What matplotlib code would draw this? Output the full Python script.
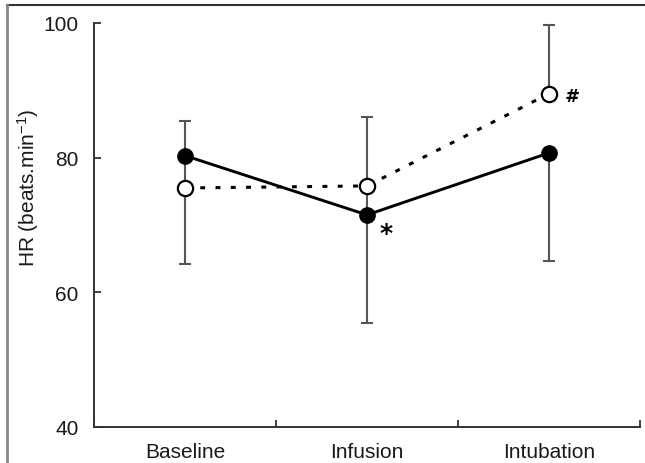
import matplotlib
matplotlib.use("Agg")
import matplotlib.pyplot as plt
from matplotlib.lines import Line2D
import numpy as np

plt.rcParams['font.family'] = ['Liberation Sans', 'DejaVu Sans']
plt.rcParams['mathtext.fontset'] = 'custom'
plt.rcParams['mathtext.rm'] = 'Liberation Sans'
plt.rcParams['mathtext.it'] = 'Liberation Sans:italic'
plt.rcParams['mathtext.bf'] = 'Liberation Sans:bold'

# Data
groups = ['Baseline', 'Infusion', 'Intubation']
filled_mean = [80.3, 71.5, 80.7]
filled_sd = [5.1, 16.1, 16.0]
filled_up = [True, False, False]   # direction the SD bar is drawn
open_mean = [75.5, 75.8, 89.5]
open_sd = [11.3, 10.2, 10.2]
open_up = [False, True, True]
linked = [True, True, False]       # bar also runs between the two means
marks = {'Infusion': ('*', 'filled'), 'Intubation': ('#', 'open')}

x = np.arange(len(groups)) + 0.5
ebcol = '#555555'

fig = plt.figure(figsize=(6.45, 4.64), dpi=100)
ax = fig.add_axes([0.1457, 0.0776, 0.8465, 0.8707])

def one_sided(sd, up):
    lo = [0 if u else s for s, u in zip(sd, up)]
    hi = [s if u else 0 for s, u in zip(sd, up)]
    return [lo, hi]

# Error bars (drawn first, behind markers)
ax.errorbar(x, filled_mean, yerr=one_sided(filled_sd, filled_up), fmt='none',
            ecolor=ebcol, elinewidth=1.5, capsize=4.3, capthick=1.5, zorder=1)
ax.errorbar(x, open_mean, yerr=one_sided(open_sd, open_up), fmt='none',
            ecolor=ebcol, elinewidth=1.5, capsize=4.3, capthick=1.5, zorder=1)
for xi, a, b, l in zip(x, filled_mean, open_mean, linked):
    if l:
        ax.vlines(xi, min(a, b), max(a, b), color=ebcol, lw=1.5, zorder=1)

# Series lines
ax.plot(x, open_mean, color='black', lw=2.2, dashes=(1.6, 3.4), zorder=2)
ax.plot(x, filled_mean, color='black', lw=2.1, zorder=2)
ax.plot(x, open_mean, 'o', ms=11, mfc='white', mec='black', mew=1.6, zorder=3)
ax.plot(x, filled_mean, 'o', ms=11, mfc='black', mec='black', zorder=3)

# Significance marks
for g, (sym, series) in marks.items():
    i = groups.index(g)
    y = filled_mean[i] if series == 'filled' else open_mean[i]
    if sym == '*':
        ax.annotate(sym, (x[i], y), xytext=(14, -13), textcoords='offset points',
                    fontsize=18, fontweight='bold', ha='center', va='center',
                    family='DejaVu Sans')
    else:
        ax.annotate(sym, (x[i], y), xytext=(16, -2), textcoords='offset points',
                    fontsize=13, fontweight='bold', style='italic',
                    ha='center', va='center', family='DejaVu Sans')

# Axes styling
ax.set_xlim(0, 3)
ax.set_ylim(40, 100)
ax.set_yticks([40, 60, 80, 100])
ax.set_xticks([0, 1, 2, 3])
ax.set_xticklabels([])
ax.set_xticks(x, minor=True)
ax.set_xticklabels(groups, minor=True)
ax.tick_params(axis='x', which='major', direction='in', length=5, width=1.3, color='#333333')
ax.tick_params(axis='x', which='minor', length=0, pad=11, labelsize=15, labelcolor='#1a1a1a')
ax.tick_params(axis='y', direction='in', length=5, width=1.3, color='#333333',
               pad=11, labelsize=15, labelcolor='#1a1a1a')
for s in ['top', 'right']:
    ax.spines[s].set_visible(False)
for s in ['left', 'bottom']:
    ax.spines[s].set_color('#333333')
    ax.spines[s].set_linewidth(1.4)

ax.set_ylabel('HR (beats.min$^{-1}$)', fontsize=15, color='#1a1a1a')
ax.yaxis.set_label_coords(-0.097, 0.595)

# Image frame (top and left edges)
fig.add_artist(Line2D([7 / 645, 1], [1 - 6 / 464] * 2, transform=fig.transFigure,
                      color='#333333', lw=1.5))
fig.add_artist(Line2D([7 / 645] * 2, [0, 1 - 6 / 464], transform=fig.transFigure,
                      color='#888888', lw=2))

fig.savefig('out.png', dpi=100)
